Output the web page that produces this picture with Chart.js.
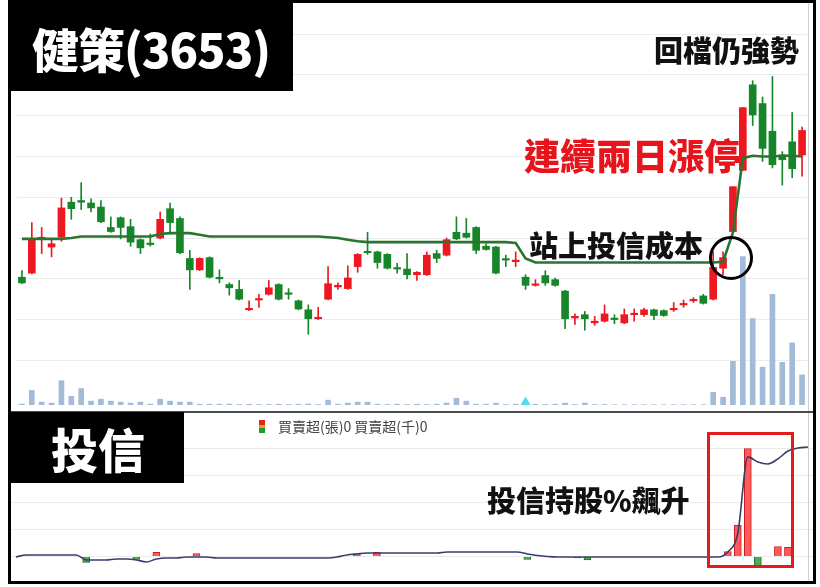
<!DOCTYPE html>
<html>
<head>
<meta charset="utf-8">
<script src="https://cdn.jsdelivr.net/npm/chart.js@4.4.1/dist/chart.umd.min.js"></script>
<style>
  html, body { margin: 0; padding: 0; background: #fff; }
  body { width: 820px; height: 587px; position: relative; overflow: hidden;
         font-family: "Noto Sans CJK TC", "Noto Sans", sans-serif; }
  canvas { position: absolute; left: 11px; }
  #priceChart { top: 3px; }
  #trustChart { top: 413px; }
  .frame { position: absolute; left: 8px; top: 0; width: 808px; height: 584px;
           border: 3px solid #000; box-sizing: border-box; z-index: 5; }
  .divider { position: absolute; left: 11px; top: 411px; width: 802px; height: 2px; background: #4a4a4a; z-index: 4; }
  .edge { position: absolute; left: 808px; width: 1px; background: #cfcfcf; z-index: 3; }
  .tag { position: absolute; background: #000; z-index: 6; }
  .note { position: absolute; font-weight: 900; line-height: 1; color: #111; white-space: nowrap; z-index: 7; }
  .legend { position: absolute; left: 278px; top: 419px; font-size: 14px; line-height: 1; color: #444; z-index: 7; }
  .legend-icon { position: absolute; left: 259px; top: 420px; width: 6px; height: 13px; z-index: 7;
                 background: linear-gradient(#e52222 0 40%, #f0a000 40% 60%, #229933 60% 100%); }
  .ring { position: absolute; left: 709px; top: 236px; width: 44px; height: 44px; border: 3px solid #000;
          border-radius: 50%; box-sizing: border-box; z-index: 7; }
  .box { position: absolute; left: 707px; top: 432px; width: 87px; height: 136px; border: 3px solid #e21b1b;
         box-sizing: border-box; z-index: 7; }
</style>
</head>
<body>
<canvas id="priceChart" width="802" height="408"></canvas>
<canvas id="trustChart" width="802" height="168"></canvas>

<div class="frame"></div>
<div class="divider"></div>
<div class="edge" style="top:3px;height:408px"></div>
<div class="edge" style="top:413px;height:168px"></div>

<div class="tag" style="left:9px;top:0;width:284px;height:91px"></div>
<div class="note" style="color:#fff;left:32px;top:24px;font-size:47px;letter-spacing:-1px">健策(3653)</div>
<div class="tag" style="left:9px;top:412px;width:175px;height:71px"></div>
<div class="note" style="color:#fff;left:51px;top:424px;font-size:47px">投信</div>

<div class="note" style="left:654px;top:35px;font-size:29px">回檔仍強勢</div>
<div class="note" style="left:524px;top:136px;font-size:36px;color:#e8141b">連續兩日漲停</div>
<div class="note" style="left:529px;top:230px;font-size:29px">站上投信成本</div>
<div class="note" style="left:487px;top:485px;font-size:29px">投信持股%飆升</div>
<div class="ring"></div>
<div class="box"></div>

<div class="legend-icon"></div>
<div class="legend">買賣超(張)0 買賣超(千)0</div>

<script>
const days = Array.from({ length: 80 }, (_, i) => 'D' + (i + 1));

const openP = [85.2, 85.7, 89.9, 88.9, 90.1, 94.4, 94.6, 94.3, 93.8, 91.3,
  92.5, 91.4, 89.8, 89.3, 90.0, 93.6, 92.4, 87.5, 86.1, 87.6,
  85.1, 84.3, 83.7, 81.2, 82.4, 83.1, 84.3, 83.2, 82.3, 81.2,
  80.1, 82.5, 84.0, 83.8, 86.5, 88.3, 88.3, 88.0, 86.3, 86.2,
  85.5, 85.5, 88.1, 87.9, 90.7, 90.6, 91.3, 89.0, 88.9, 87.4,
  87.1, 85.2, 84.2, 85.4, 84.9, 83.5, 80.2, 80.6, 79.6, 79.8,
  80.1, 79.6, 80.6, 80.6, 81.2, 81.1, 81.2, 81.8, 82.3, 82.9,
  82.5, 86.3, 90.8, 98.3, 108.8, 106.5, 103.1, 100.2, 101.8, 100.2]

const highP = [86.0, 91.9, 91.3, 89.8, 94.9, 95.0, 96.8, 94.8, 94.6, 92.6,
  92.6, 92.3, 89.9, 90.5, 93.2, 94.3, 92.6, 88.5, 87.6, 87.7,
  86.1, 84.5, 84.8, 82.3, 83.1, 84.8, 84.4, 83.8, 82.4, 81.8,
  81.5, 86.5, 84.5, 86.6, 88.1, 90.7, 88.4, 88.1, 86.9, 88.1,
  85.9, 88.3, 88.5, 90.0, 92.6, 92.4, 91.4, 89.3, 89.0, 87.9,
  88.3, 85.5, 84.9, 86.0, 85.1, 83.6, 80.7, 81.0, 80.4, 81.8,
  80.6, 81.3, 81.3, 81.4, 81.3, 81.2, 82.1, 82.4, 82.7, 83.1,
  88.3, 88.3, 96.3, 106.0, 109.3, 107.3, 109.8, 100.6, 105.4, 103.6]

const lowP = [84.4, 85.6, 88.1, 87.7, 89.6, 92.3, 93.5, 93.2, 91.9, 90.7,
  89.9, 89.0, 88.1, 89.0, 89.9, 90.5, 88.1, 83.7, 86.0, 85.1,
  84.5, 83.0, 82.4, 81.1, 81.5, 83.0, 82.4, 82.5, 81.2, 78.2,
  80.0, 82.4, 83.7, 83.7, 85.8, 88.0, 86.3, 86.2, 85.7, 85.0,
  84.8, 85.4, 87.0, 87.8, 89.8, 90.0, 88.1, 88.5, 85.6, 86.5,
  86.5, 83.7, 84.1, 84.2, 84.1, 78.9, 79.4, 78.7, 79.3, 79.7,
  79.5, 79.5, 79.8, 80.4, 80.0, 80.4, 81.0, 81.5, 82.1, 81.9,
  82.4, 85.5, 90.7, 98.3, 103.8, 99.4, 98.6, 96.5, 97.4, 97.6]

const closeP = [84.5, 89.8, 90.1, 89.3, 93.7, 93.6, 94.4, 93.7, 92.0, 90.8,
  91.3, 89.5, 88.8, 89.2, 92.3, 91.9, 88.2, 86.1, 87.5, 85.2,
  85.0, 83.9, 82.5, 81.3, 82.5, 83.9, 82.5, 83.1, 81.3, 80.1,
  80.2, 84.4, 84.2, 85.1, 88.0, 88.2, 87.0, 86.3, 86.2, 85.5,
  85.8, 87.9, 87.5, 89.8, 89.9, 90.1, 88.5, 88.6, 85.7, 87.3,
  87.3, 84.2, 84.3, 84.5, 84.2, 80.1, 80.4, 80.1, 79.8, 80.7,
  80.0, 80.6, 80.7, 81.2, 80.5, 80.5, 81.3, 81.9, 82.4, 82.0,
  86.4, 87.6, 96.3, 106.0, 105.1, 101.0, 99.0, 99.6, 98.5, 103.2]

// 投信成本線
const trustCost = [89.9, 89.9, 89.9, 89.9, 89.9, 90.0, 90.2, 90.2, 90.2, 90.2,
  90.2, 90.2, 90.2, 90.2, 90.5, 90.6, 90.6, 90.6, 90.4, 90.2,
  90.2, 90.2, 90.2, 90.2, 90.2, 90.2, 90.2, 90.2, 90.2, 90.2,
  90.2, 90.1, 90.0, 89.8, 89.6, 89.5, 89.5, 89.5, 89.5, 89.5,
  89.5, 89.5, 89.5, 89.5, 89.5, 89.5, 89.5, 89.5, 89.5, 89.5,
  89.4, 87.5, 87.0, 87.0, 87.0, 87.0, 87.0, 87.0, 87.0, 87.0,
  87.0, 87.0, 87.0, 87.0, 87.0, 87.0, 87.0, 87.0, 87.0, 87.0,
  87.0, 87.1, 90.7, 99.8, 100.1, 100.0, 100.0, 100.1, 100.1, 100.0]

const volume = [10, 150, 30, 20, 250, 90, 170, 40, 60, 40,
  30, 20, 30, 10, 60, 40, 30, 30, 8, 8,
  8, 10, 5, 8, 5, 5, 8, 5, 8, 10,
  5, 50, 8, 20, 30, 30, 8, 5, 8, 5,
  8, 5, 8, 20, 70, 40, 8, 8, 20, 5,
  8, 5, 8, 5, 8, 20, 5, 20, 5, 5,
  3, 3, 3, 3, 3, 3, 3, 3, 3, 3,
  130, 80, 450, 1530, 890, 390, 1140, 440, 640, 310]

const signalMark = [null, null, null, null, null, null, null, null, null, null,
  null, null, null, null, null, null, null, null, null, null,
  null, null, null, null, null, null, null, null, null, null,
  null, null, null, null, null, null, null, null, null, null,
  null, null, null, null, null, null, null, null, null, null,
  null, 28, null, null, null, null, null, null, null, null,
  null, null, null, null, null, null, null, null, null, null,
  null, null, null, null, null, null, null, null, null, null]

// 投信買賣超(張)
const netBuy = [null, null, null, null, null, null, null, -44, null, null,
  null, null, -22, null, 30, null, null, null, 22, null,
  null, null, null, null, null, null, null, null, null, null,
  null, null, null, null, 22, null, 30, null, null, null,
  null, null, null, null, null, null, null, null, null, null,
  null, -22, null, null, null, null, -11, -26, null, null,
  null, null, null, null, null, null, null, null, null, null,
  null, 37, 230, 800, -67, null, 74, 67, null, null]

// 投信持股%
const holdPct = [1.38, 1.50, 1.50, 1.50, 1.50, 1.50, 1.50, 1.20, 1.20, 1.20,
  1.26, 1.26, 1.20, 1.08, 1.26, 1.32, 1.32, 1.38, 1.38, 1.38,
  1.32, 1.32, 1.32, 1.32, 1.32, 1.32, 1.32, 1.32, 1.32, 1.32,
  1.32, 1.32, 1.38, 1.50, 1.56, 1.62, 1.62, 1.62, 1.62, 1.62,
  1.62, 1.62, 1.62, 1.68, 1.68, 1.68, 1.68, 1.68, 1.68, 1.68,
  1.68, 1.56, 1.47, 1.41, 1.38, 1.38, 1.38, 1.38, 1.38, 1.38,
  1.38, 1.38, 1.38, 1.38, 1.38, 1.38, 1.38, 1.38, 1.38, 1.38,
  1.38, 1.68, 2.81, 7.37, 7.07, 6.95, 7.25, 7.72, 7.90, 7.96]

const RED = '#ee1822'
const GREEN = '#17862a'
const candleColor = openP.map((o, i) => closeP[i] >= o ? RED : GREEN)

// keep only grid lines on round values
function gridEvery(step) {
    return function (axis) {
        axis.ticks = axis.ticks.filter(t => Math.abs(t.value / step - Math.round(t.value / step)) < 1e-6)
    }
}

new Chart(document.getElementById('priceChart'), {
    type: 'bar',
    data: {
        labels: days,
        datasets: [{
            type: 'line',
            data: trustCost,
            borderColor: '#2b7430',
            borderWidth: 2.6,
            pointRadius: 0,
            order: 0
        }, {
            type: 'line',
            data: signalMark,
            yAxisID: 'yv',
            showLine: false,
            pointStyle: 'triangle',
            pointRadius: 5,
            backgroundColor: '#4fdcec',
            borderColor: '#4fdcec',
            order: 0
        }, {
            data: openP.map((o, i) => [o, closeP[i]]),
            backgroundColor: candleColor,
            barThickness: 7,
            minBarLength: 1.5,
            grouped: false,
            order: 1
        }, {
            data: lowP.map((l, i) => [l, highP[i]]),
            backgroundColor: candleColor,
            barThickness: 1,
            grouped: false,
            order: 2
        }, {
            data: volume,
            yAxisID: 'yv',
            backgroundColor: '#a2bbd8',
            barThickness: 5,
            grouped: false,
            order: 3
        }]
    },
    options: {
        responsive: false,
        animation: false,
        layout: { padding: 0 },
        plugins: { legend: { display: false }, tooltip: { enabled: false } },
        scales: {
            x: { display: false, offset: true },
            y: {
                min: 69.524,
                max: 118.095,
                ticks: { display: false, stepSize: 5 },
                grid: { color: '#ececec', drawTicks: false },
                border: { display: false },
                afterBuildTicks: gridEvery(5)
            },
            yv: { display: false, min: 0, max: 4080 }
        }
    }
})

new Chart(document.getElementById('trustChart'), {
    type: 'bar',
    data: {
        labels: days,
        datasets: [{
            type: 'line',
            data: holdPct,
            yAxisID: 'yp',
            borderColor: '#3a3c6e',
            borderWidth: 1.6,
            pointRadius: 0,
            cubicInterpolationMode: 'monotone',
            order: 0
        }, {
            data: netBuy,
            yAxisID: 'y',
            backgroundColor: netBuy.map(v => v > 0 ? '#ff5b5b' : '#4cae4c'),
            borderColor: netBuy.map(v => v > 0 ? '#cc2020' : '#1f6b2a'),
            borderWidth: 1,
            barThickness: 7,
            order: 1
        }]
    },
    options: {
        responsive: false,
        animation: false,
        layout: { padding: 0 },
        plugins: { legend: { display: false }, tooltip: { enabled: false } },
        scales: {
            x: { display: false, offset: true },
            y: {
                min: -181.5,
                max: 1063,
                ticks: { display: false, stepSize: 200 },
                grid: { color: '#ebebeb', drawTicks: false },
                border: { display: false },
                afterBuildTicks: gridEvery(200)
            },
            yp: { display: false, min: -0.06, max: 10 }
        }
    }
})
</script>
</body>
</html>
